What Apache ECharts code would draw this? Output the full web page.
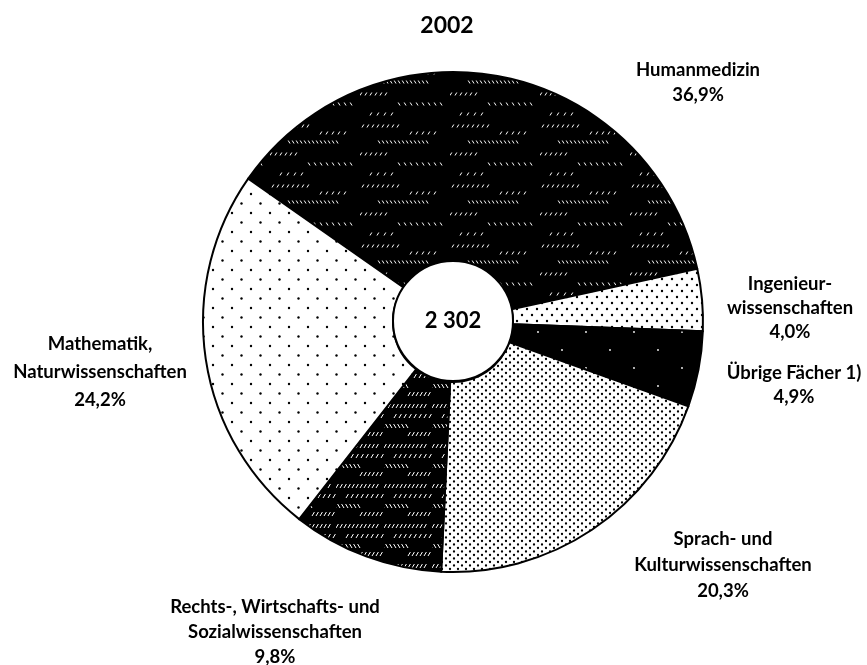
<!DOCTYPE html>
<html>
<head>
<meta charset="utf-8">
<script src="https://cdn.jsdelivr.net/npm/echarts@6/dist/echarts.min.js"></script>
<style>
html,body{margin:0;padding:0;background:#fff;}
#chart{width:867px;height:665px;}
</style>
</head>
<body>
<div id="chart"></div>
<script>
// ---- data ----
const TITLE = '2002';
const TOTAL = '2 302';
const categories = [
  'Humanmedizin',
  'Ingenieur-\nwissenschaften',
  'Übrige Fächer 1)',
  'Sprach- und\nKulturwissenschaften',
  'Rechts-, Wirtschafts- und\nSozialwissenschaften',
  'Mathematik,\nNaturwissenschaften'
];
const shares = [36.9, 4.0, 4.9, 20.3, 9.8, 24.2];

const FONT = 'Lato, "Open Sans", sans-serif';

// ---- patterns ----
function tile(w, h, bg, draw) {
  const c = document.createElement('canvas');
  c.width = w; c.height = h;
  const ctx = c.getContext('2d');
  ctx.fillStyle = bg; ctx.fillRect(0, 0, w, h);
  draw(ctx);
  return { image: c, repeat: 'repeat' };
}
function dots(ctx, pts, r, col) {
  ctx.fillStyle = col;
  pts.forEach(p => { ctx.beginPath(); ctx.arc(p[0], p[1], r, 0, Math.PI * 2); ctx.fill(); });
}
function dashes(ctx, y, x0, x1, step, dir, len) {
  ctx.strokeStyle = '#fff'; ctx.lineWidth = 1;
  for (let x = x0; x < x1; x += step) {
    ctx.beginPath();
    ctx.moveTo(x, y + len / 2);
    ctx.lineTo(x + dir * len * 0.6, y - len / 2);
    ctx.stroke();
  }
}
const patHuman = tile(90, 60, '#000', ctx => {
  dashes(ctx, 6, 2, 40, 5, 1, 3);
  dashes(ctx, 13, 50, 80, 6, 1, 3);
  dashes(ctx, 22, 20, 70, 4, -1, 3);
  dashes(ctx, 34, 0, 30, 5, 1, 3);
  dashes(ctx, 44, 40, 86, 6, -1, 3);
  dashes(ctx, 54, 10, 36, 7, 1, 3);
});
const patIng = tile(10, 12, '#fff', ctx => dots(ctx, [[2, 3], [7, 9]], 1.2, '#000'));
const patUebrige = tile(48, 36, '#000', ctx => dots(ctx, [[10, 8], [34, 26]], 0.9, '#fff'));
const patSprach = tile(8, 7, '#fff', ctx => dots(ctx, [[2, 2], [6, 5.5]], 1.15, '#000'));
const patRechts = tile(48, 40, '#000', ctx => {
  dashes(ctx, 6, 0, 44, 4, 1, 4);
  dashes(ctx, 16, 10, 48, 5, 1, 4);
  dashes(ctx, 26, 0, 26, 4, -1, 4);
  dashes(ctx, 34, 24, 48, 4, 1, 4);
});
const patMathe = tile(19, 19, '#fff', ctx => dots(ctx, [[4, 4], [13.5, 13.5]], 1.2, '#000'));
const patterns = [patHuman, patIng, patUebrige, patSprach, patRechts, patMathe];

const labelPos = [[698, 83], [790, 308], [794, 385], [723, 565], [275, 632], [100, 372]];
const labelLineHeights = [25, 24, 24, 26, 25, 28];

const chart = echarts.init(document.getElementById('chart'), null, { renderer: 'canvas' });
chart.setOption({
  animation: false,
  backgroundColor: '#fff',
  title: {
    text: TITLE,
    left: 442, top: 9, textAlign: 'center',
    textStyle: { fontFamily: FONT, fontWeight: 700, fontSize: 23, color: '#000' }
  },
  series: [
    {
      type: 'pie',
      center: [453, 322],
      radius: [60, 250],
      startAngle: 145,
      clockwise: true,
      silent: true,
      itemStyle: { borderColor: '#000', borderWidth: 2 },
      label: {
        show: true,
        position: 'outside',
        color: '#000',
        fontFamily: FONT,
        fontWeight: 700,
        fontSize: 18.5,
        lineHeight: 25,
        align: 'center',
        overflow: 'none',
        formatter: p => p.name + '\n' + p.value.toFixed(1).replace('.', ',') + '%'
      },
      labelLine: { show: false },
      labelLayout: p => ({
        x: labelPos[p.dataIndex][0],
        y: labelPos[p.dataIndex][1],
        align: 'center',
        verticalAlign: 'middle'
      }),
      data: categories.map((n, i) => ({
        name: n, value: shares[i],
        itemStyle: { color: patterns[i] },
        label: { lineHeight: labelLineHeights[i] }
      }))
    },
    {
      type: 'pie',
      center: [453, 321],
      radius: [0, 60],
      silent: true,
      itemStyle: { color: '#fff', borderColor: '#000', borderWidth: 2 },
      label: {
        show: true, position: 'center',
        formatter: TOTAL,
        color: '#000', fontFamily: FONT, fontWeight: 700, fontSize: 22
      },
      labelLine: { show: false },
      data: [{ name: 'Gesamt', value: 1 }]
    }
  ]
});
</script>
</body>
</html>
